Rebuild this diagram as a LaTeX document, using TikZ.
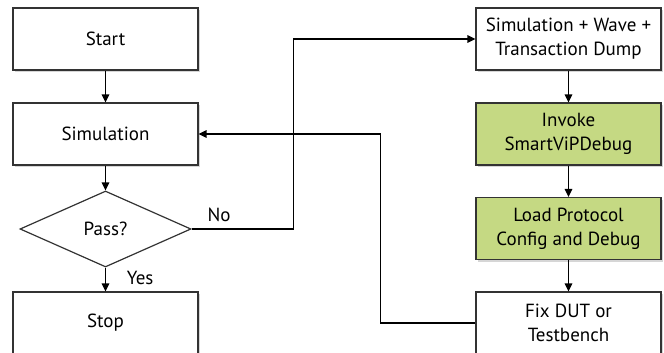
\documentclass[tikz,border=0pt]{standalone}
\usepackage{fontspec}
\setmainfont{PT Sans}
\usepackage{xcolor}
\usetikzlibrary{arrows.meta}
\usetikzlibrary{shapes.geometric}
\usetikzlibrary{shadows}

\definecolor{boxgreen}{RGB}{197,217,131}

\tikzset{
  kasten/.style={draw=black!80, line width=0.6pt, fill=white,
    minimum width=92.5pt, minimum height=31pt, align=center,
    drop shadow={shadow xshift=1.2pt, shadow yshift=-1.2pt, fill=black!40, opacity=0.4},
    font=\fontsize{9.5}{12}\selectfont},
  gruen/.style={kasten, fill=boxgreen},
  raute/.style={diamond, draw=black!80, line width=0.6pt, fill=white, aspect=2.25,
    minimum width=85.5pt, minimum height=38pt, inner sep=0pt,
    font=\fontsize{9.5}{12}\selectfont},
  pfeil/.style={-{Triangle[length=4pt,width=3.8pt]}, line width=0.65pt},
  beschr/.style={font=\fontsize{9.5}{12}\selectfont}
}

\begin{document}
\begin{tikzpicture}[x=0.5pt,y=-0.5pt]
  \useasboundingbox (0,0) rectangle (664,353);
  \clip (0,0) rectangle (664,353);

  % Linke Spalte
  \node[kasten] (start) at (105.5,39) {Start};
  \node[kasten] (sim) at (105.5,134) {Simulation};
  \node[raute] (pass) at (105.5,229) {Pass?};
  \node[kasten] (stop) at (105.5,323) {Stop};

  % Rechte Spalte
  \node[kasten] (dump) at (568.5,39) {Simulation + Wave +\\Transaction Dump};
  \node[gruen] (invoke) at (568.5,134) {Invoke\\SmartViPDebug};
  \node[gruen] (load) at (568.5,228.5) {Load Protocol\\Config and Debug};
  \node[kasten] (fix) at (568.5,323) {Fix DUT or\\Testbench};

  % Pfeile
  \draw[pfeil] (start) -- (sim);
  \draw[pfeil] (sim) -- (pass);
  \draw[pfeil] (pass) -- node[beschr, right=7pt, pos=0.45] {Yes} (stop);
  \draw[pfeil] (dump) -- (invoke);
  \draw[pfeil] (invoke) -- (load);
  \draw[pfeil] (load) -- (fix);

  % Rueckfuehrungen
  \draw[pfeil] (pass.east) -- node[beschr, above, pos=0.27] {No} ++(102,0)
    coordinate (knick) |- (dump.west);
  \draw[pfeil] (fix.west) -- ++(-95,0) coordinate (ruck) |- (sim.east);
\end{tikzpicture}
\end{document}
